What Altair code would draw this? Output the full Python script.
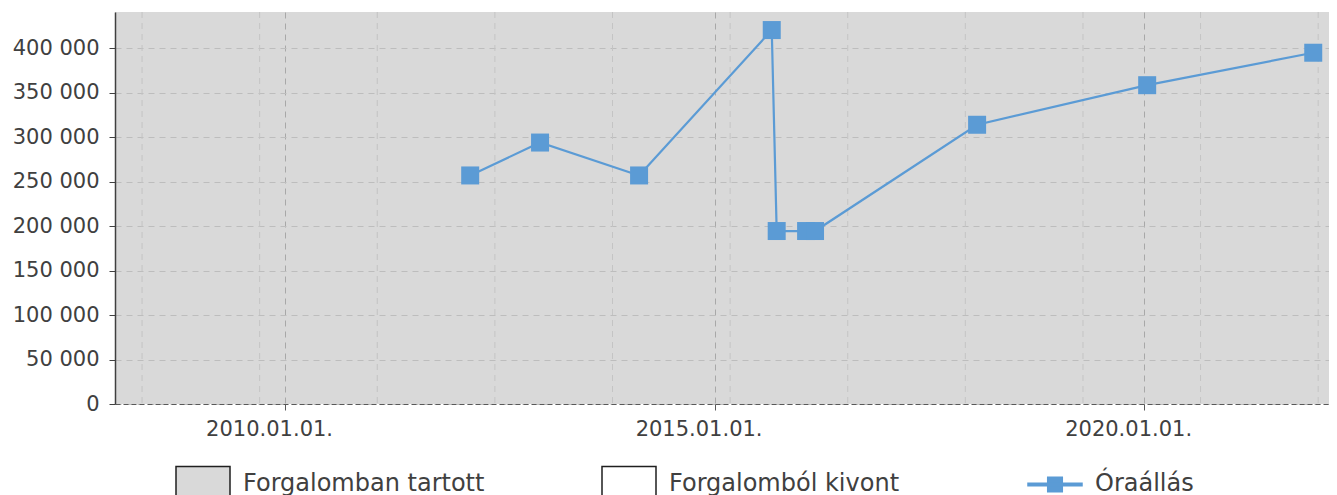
import altair as alt
import pandas as pd

# ---- data ----
dates = ["2012-02-27", "2012-12-20", "2014-02-14", "2015-09-01", "2015-09-22",
         "2016-01-25", "2016-03-03", "2018-01-21", "2020-01-14", "2021-12-20"]
odometer = [257000, 294000, 257000, 420500, 194500,
            194500, 194500, 314000, 358500, 395000]

legend_labels = ["Forgalomban tartott", "Forgalomból kivont", "Óraállás"]
legend_fills = ["#d9d9d9", "#ffffff", "#5b9bd5"]
legend_strokes = ["#1f1f1f", "#1f1f1f", "#5b9bd5"]
legend_shapes = ["M-1,-0.667H1V0.667H-1Z", "M-1,-0.667H1V0.667H-1Z",
                 "M0,-0.667M0,0.667M-1,-0.05H1V0.05H-1Z M-0.27,-0.27H0.27V0.27H-0.27Z"]

year_ticks = [2010, 2015, 2020]
minor_grid_dates = ["2008-05-03", "2009-09-15", "2011-01-28", "2012-06-11",
                    "2013-10-24", "2015-03-08", "2016-07-20", "2017-12-02",
                    "2019-04-16", "2020-08-28", "2022-01-10"]
y_ticks = [0, 50000, 100000, 150000, 200000, 250000, 300000, 350000, 400000]

x_domain = ["2008-01-09", "2022-02-25"]
y_domain = [0, 440800]

BLUE = "#5b9bd5"
TEXT = "#404040"

df = pd.DataFrame({"date": dates, "value": odometer})
grid_df = pd.DataFrame({"date": minor_grid_dates})
legend_df = pd.DataFrame({"cat": legend_labels,
                          "date": ["2012-01-01"] * 3,
                          "value": [-100000] * 3})

x_scale = alt.Scale(domain=x_domain)
y_scale = alt.Scale(domain=y_domain, nice=False, zero=False)

x_axis = alt.Axis(
    values=[alt.DateTime(year=y, month=1, date=1) for y in year_ticks],
    format="%Y.%m.%d.", title=None, labelFontSize=21, labelColor=TEXT,
    tickSize=6, tickColor="#595959", labelPadding=8, labelOffset=-16,
    domainColor="#595959", domainDash=[5, 3], domainWidth=1.2,
    grid=True, gridColor="#a8a8a8", gridDash=[6, 5], gridWidth=1,
)
y_axis = alt.Axis(
    values=y_ticks, title=None, labelFontSize=21, labelColor=TEXT,
    labelExpr="replace(format(datum.value, ','), ',', ' ')",
    tickSize=6, tickColor="#404040", labelPadding=10,
    domainColor="#404040", domainWidth=1.5,
    grid=True, gridColor="#bdbdbd", gridDash=[6, 5], gridWidth=1,
)

minor = alt.Chart(grid_df).mark_rule(color="#c4c4c4", strokeDash=[6, 5], strokeWidth=1).encode(
    x=alt.X("date:T", scale=x_scale, axis=x_axis),
)

line = alt.Chart(df).mark_line(color=BLUE, strokeWidth=2.2).encode(
    x=alt.X("date:T", scale=x_scale, axis=x_axis),
    y=alt.Y("value:Q", scale=y_scale, axis=y_axis),
)
points = alt.Chart(df).mark_point(shape="square", filled=True, size=324,
                                  color=BLUE, opacity=1).encode(
    x=alt.X("date:T", scale=x_scale, axis=x_axis),
    y=alt.Y("value:Q", scale=y_scale, axis=y_axis),
)

legend_layer = alt.Chart(legend_df).mark_point(filled=True, clip=True, opacity=1, strokeWidth=1.5).encode(
    x=alt.X("date:T", scale=x_scale, axis=x_axis),
    y=alt.Y("value:Q", scale=y_scale, axis=y_axis),
    fill=alt.Fill("cat:N", scale=alt.Scale(domain=legend_labels, range=legend_fills), title=None),
    stroke=alt.Stroke("cat:N", scale=alt.Scale(domain=legend_labels, range=legend_strokes), title=None),
    shape=alt.Shape("cat:N", scale=alt.Scale(domain=legend_labels, range=legend_shapes), title=None),
)

chart = alt.layer(minor, line, points, legend_layer).properties(
    width=1214, height=392,
    autosize=alt.AutoSizeParams(type="none"),
    padding={"left": 107, "top": 4, "right": 0, "bottom": 91},
).configure(
    font="DejaVu Sans",
).configure_view(
    fill="#d9d9d9", stroke=None,
).configure_legend(
    orient="none", legendX=60, legendY=444, direction="horizontal",
    columns=3, gridAlign="all", columnPadding=114, padding=0,
    symbolSize=2916, symbolStrokeWidth=1.5, labelFontSize=24,
    labelColor=TEXT, labelOffset=12, labelLimit=500, titleFontSize=0,
)

chart.save("out.html", embed_options={"renderer": "svg", "actions": False})
